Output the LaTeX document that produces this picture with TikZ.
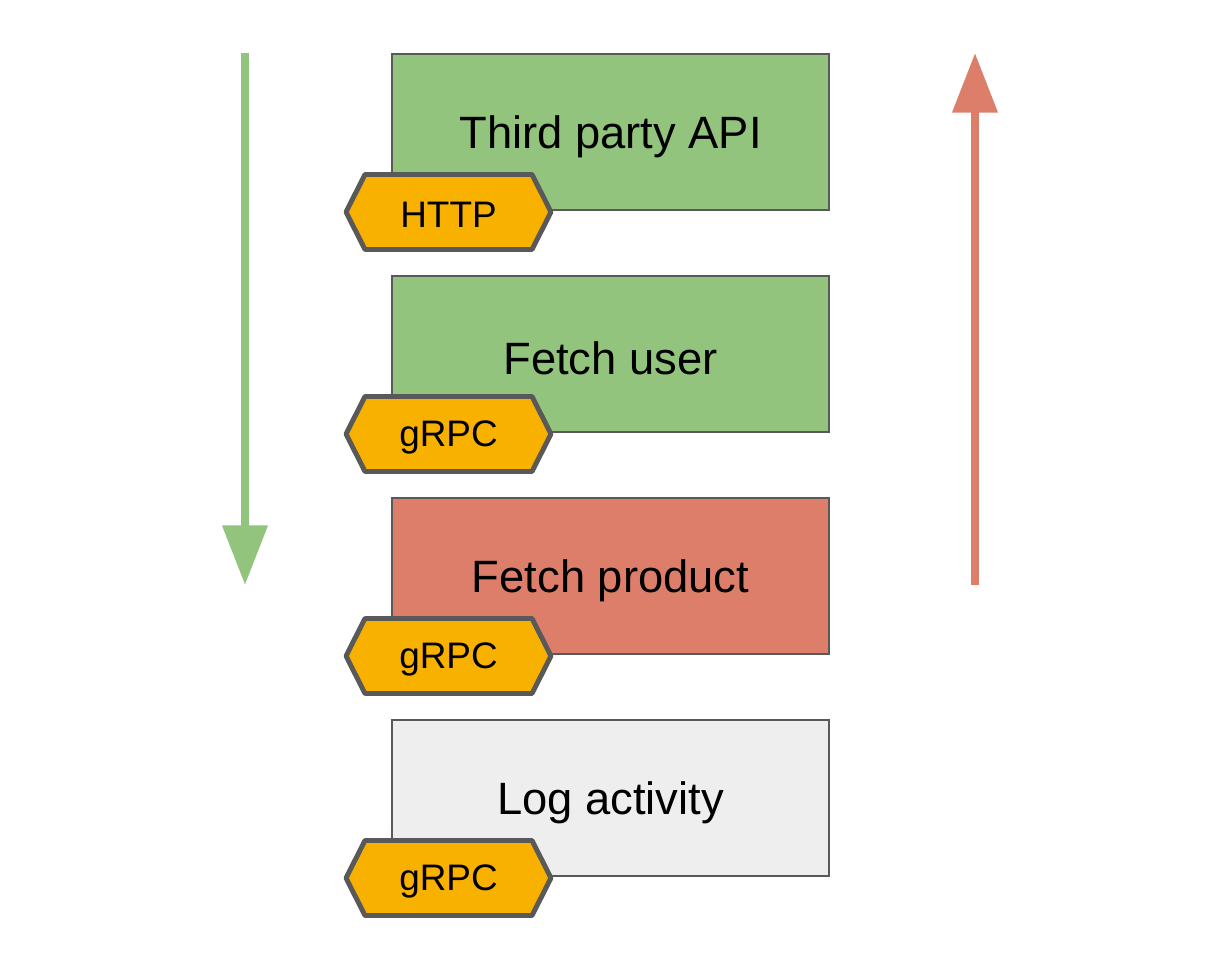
\documentclass[tikz,border=0pt]{standalone}
\usepackage{fontspec}
\setmainfont{Liberation Sans}
\usetikzlibrary{arrows.meta}
\definecolor{callgreen}{RGB}{147,196,125}
\definecolor{callred}{RGB}{221,126,107}
\definecolor{callgray}{RGB}{238,238,238}
\definecolor{tagorange}{RGB}{249,177,0}
\definecolor{edgegray}{RGB}{89,89,89}

\tikzset{
  callbox/.style={draw=edgegray,line width=1.5pt,minimum width=8.74cm,minimum height=3.12cm,
    inner sep=0pt},
  boxtext/.style={inner sep=0pt,yshift=-2.5pt,font=\fontsize{25.8}{30}\selectfont},
  tagline/.style={draw=edgegray,fill=tagorange,line width=2.8pt,line join=round},
  tagtext/.style={inner sep=0pt,yshift=-1.8pt,font=\fontsize{21}{25}\selectfont},
  flow/.style={line width=4.5pt,-{Triangle[length=34pt,width=25pt]}}
}

% label hexagon below left of a box: name, y, text
\newcommand{\protocoltag}[3]{%
  \draw[tagline] (346,#2) -- (365,#2-37.5) -- (532,#2-37.5) -- (551,#2)
    -- (532,#2+37.5) -- (365,#2+37.5) -- cycle;
  \node[tagtext] (#1) at (448.5,#2) {#3};}

\begin{document}
\begin{tikzpicture}[x=0.02cm,y=-0.02cm]
\useasboundingbox (0,0) rectangle (1214,972);

\node[callbox,fill=callgreen] (api) at (610.5,132) {};
\node[boxtext] (apitext) at (api) {Third party API};
\protocoltag{http}{212}{HTTP}
\node[callbox,fill=callgreen] (user) at (610.5,354) {};
\node[boxtext] (usertext) at (user) {Fetch user};
\protocoltag{grpcuser}{434}{gRPC}
\node[callbox,fill=callred] (product) at (610.5,576) {};
\node[boxtext] (producttext) at (product) {Fetch product};
\protocoltag{grpcproduct}{656}{gRPC}
\node[callbox,fill=callgray] (log) at (610.5,798) {};
\node[boxtext] (logtext) at (log) {Log activity};
\protocoltag{grpclog}{878}{gRPC}

% request goes down, error comes back up
\coordinate (downstart) at (245,53);
\coordinate (downend) at (245,585);
\coordinate (upstart) at (975,585);
\coordinate (upend) at (975,53);
\draw[flow,callgreen] (downstart) -- (downend);
\draw[flow,callred] (upstart) -- (upend);
\end{tikzpicture}
\end{document}
